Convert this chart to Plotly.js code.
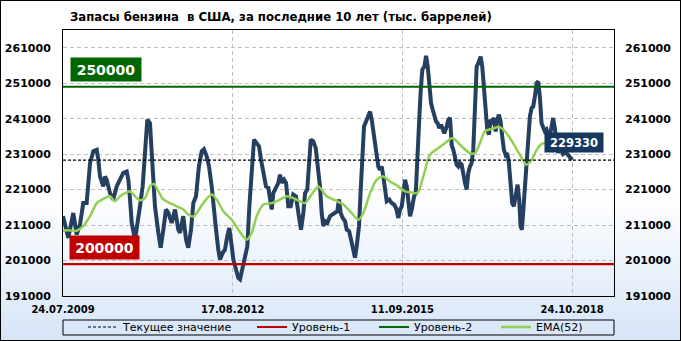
<!DOCTYPE html>
<html><head><meta charset="utf-8">
<script src="https://cdn.plot.ly/plotly-3.0.1.min.js"></script>
<style>
html,body{margin:0;padding:0;background:#fff;}
#wrap{position:relative;width:681px;height:341px;background:linear-gradient(to bottom,#ffffff 0%,#ffffff 57%,#d6e5f7 100%);}
#chart{position:absolute;left:0;top:0;width:681px;height:341px;}
#frame{position:absolute;left:0;top:0;width:681px;height:341px;box-sizing:border-box;border:1px solid #000;pointer-events:none;}
</style></head><body>
<div id="wrap"><div id="chart"></div><div id="frame"></div></div>
<script>
// x positions are week indices counted from 24.07.2009
const tickWeeks = [0, 160, 320, 480];
const tickLabels = ['24.07.2009', '17.08.2012', '11.09.2015', '24.10.2018'];
const yTicks = [191000, 201000, 211000, 221000, 231000, 241000, 251000, 261000];

const stockWeeks = [0,5,9.7,12.9,16,19.1,22.3,25.5,28.6,31.8,
33.3,34.9,38,39.6,41.2,44.3,47.4,50.6,53.7,56.9,
60.1,61.6,63.2,64.8,67.9,69.5,72.6,75.1,77.3,79.5,
82,83.6,85.1,86.7,89.9,92.1,94.6,97.1,99.3,102.5,
105.6,108.7,110.3,113.4,116,118.1,120.7,122.9,125.4,128.1,
130.8,132.9,135.5,137.7,140.2,141.7,144.3,146.4,148,150.6,
152.7,154.9,156.8,159.1,160.6,163.1,165.3,166.9,169.4,171.6,
173.8,175.7,177.9,180.1,182.6,184.8,186.7,188.9,191.4,193.6,
195.2,196.8,198.3,200.8,203,204.6,206.2,208.4,210.3,212.4,
214.7,217.1,219.7,221.9,224.4,226.6,228.2,230.3,231.9,233.6,
236,238.3,240.2,242.3,243.9,245.4,247,249.2,251.7,254.3,
256.5,258.6,260.2,261.8,263.7,265.9,267.5,269.7,271.6,273.7,
275.3,276.9,279.1,280.7,282.2,283.8,286.4,287.9,289.5,291.1,
292.6,294.2,295.8,297.3,298.9,300.5,302,303.6,305.2,307.6,
309.9,312.1,314,316.2,317.8,319.4,320.9,322.5,324.1,325.6,
327.2,328.8,331,332.6,334.1,335.7,337.3,338.8,340.7,342.3,
343.9,345.4,347,348.6,350.1,351.7,353.3,354.8,356.4,358,
359.5,361.8,363.3,364.9,366.5,368,369.6,371.2,372.7,374.3,
375.9,377.4,379,380.6,382.1,383.7,385.3,386.8,388.4,390,
391.5,393.8,395.3,396.9,398.5,400,401.6,403.2,404.7,406.3,
407.9,409.4,411,412.6,414.1,415.7,417.3,418.8,420.4,422,
423.5,425.1,426.7,428.6,430.1,431.4,432.7,433.9,435.5,437.1,
438.6,440.2,441.8,443.3,444.9,446.5,448,449.6,451.2,452.7,
454.3,455.9,457.4,459,460.6,462.1,463.7,465.5,466.8,468.6,
471.4,474.2,477,480];

const stockValues = [213500,207400,214400,208300,211100,217200,217200,228500,231800,232200,
229400,224700,221900,224700,223800,220000,218200,221900,223800,225700,
226100,223800,218200,211600,206900,209700,216300,221900,232200,240700,
239700,232200,221900,216300,208800,204600,209700,215400,214400,211600,
215400,209700,208800,213500,206900,204600,209700,217200,219100,227500,
231800,232400,230400,227500,221900,216300,209700,204100,201300,203200,
204100,207900,210200,205000,201300,198500,196100,195700,199400,201300,
205000,216300,226600,235100,234100,233200,229400,225700,221900,221500,
219100,215400,220000,221500,222900,225200,222900,223800,222900,216300,
216300,219600,219100,214400,209700,214400,220000,221000,228500,235100,
234600,232700,227500,221900,214400,210700,212100,211600,213500,214000,
214400,214900,218200,214400,213000,212100,209700,209300,206900,204100,
201800,205000,210700,221000,230400,238800,240700,241600,243000,240700,
237900,233200,230400,227500,226600,227500,224700,220000,217700,218200,
217200,216800,215800,213000,215400,216300,220000,223800,221900,217200,
213500,215400,219100,220000,227500,239700,249100,254800,255700,258700,
255700,250100,245400,243500,241600,240200,239700,238300,239300,237900,
236900,238800,240700,241200,233500,232200,230400,228000,227500,228500,
228000,224700,222900,221000,225700,227500,228500,232200,244400,255700,
256600,258500,255700,249100,242600,237900,236500,240700,240200,241200,
237400,240700,242100,240200,236000,232200,230800,231300,228500,221000,
217200,216300,220000,222400,218200,210700,209700,215400,222900,229400,
235100,241600,244000,244400,247200,251000,251500,247200,239700,238300,
237400,237900,236500,236000,239700,241200,238300,235100,231300,233200,
231000,231500,230500,229330];

const emaWeeks = [0,6.6,12.9,19.1,25.5,31.8,38,44.3,49,53.7,
60.1,63.2,67.9,72.6,77.3,82,85.8,89.9,94.6,100.9,
107.2,113.4,118.1,122.9,126.1,132.3,140.2,144.9,151.1,159.1,
165.3,173.2,177.9,182.6,188.9,196.8,204.6,210.9,217.1,221.9,
228.2,234.5,240.7,248.6,256.5,264.3,272.2,278.5,283.2,289.5,
295.8,302,308.3,316.2,322.5,328.8,334.1,339.7,346,353.9,
360.2,366.5,369.6,375.9,383.7,388.4,393.1,397.8,404.1,411.9,
418.2,424.3,430.9,437.1,441.9,446.6,451.3,453.5,466,480];

const emaValues = [209500,209500,209400,210700,213500,217200,218400,219100,217700,219100,
220200,220500,219100,218000,218600,221900,222600,220500,218200,217200,
216300,215400,214000,213400,214400,217200,219600,218200,214900,212500,
209700,206900,208800,213500,216800,217200,218200,219100,218600,217900,
217200,219600,221900,219100,218000,216800,214400,212500,214400,220000,
223800,224700,223300,221900,220500,220200,220000,224700,230800,232700,
234100,235500,235100,233200,231300,231300,234100,237400,238100,238600,
236900,234100,230800,228000,229400,232200,233900,234100,234000,233500];

const currentValue = 229330;
const level1 = 200000;
const level2 = 250000;
const xRange = [0, 519.5];

const legFont = {family: 'DejaVu Sans, Verdana, sans-serif', size: 11, color: '#000'};

const traces = [
  {x: stockWeeks, y: stockValues, type: 'scatter', mode: 'lines', showlegend: false,
   line: {color: '#243F60', width: 4}, hoverinfo: 'skip'},
  {x: emaWeeks, y: emaValues, type: 'scatter', mode: 'lines', name: 'EMA(52)', legend: 'legend4',
   line: {color: '#92D050', width: 2.5, shape: 'spline', smoothing: 0.8}, hoverinfo: 'skip'},
  {x: xRange, y: [currentValue, currentValue], type: 'scatter', mode: 'lines', name: 'Текущее значение', legend: 'legend',
   line: {color: '#000', width: 1.2, dash: '3px,2px'}, hoverinfo: 'skip'},
  {x: xRange, y: [level1, level1], type: 'scatter', mode: 'lines', name: 'Уровень-1', legend: 'legend2',
   line: {color: '#C00000', width: 2.2}, hoverinfo: 'skip'},
  {x: xRange, y: [level2, level2], type: 'scatter', mode: 'lines', name: 'Уровень-2', legend: 'legend3',
   line: {color: '#006600', width: 2.2}, hoverinfo: 'skip'},
  {x: [null], y: [null], yaxis: 'y2', showlegend: false, hoverinfo: 'skip', type: 'scatter', mode: 'lines'}
];

function leg(px) {
  return {x: (px - 63) / 551, y: (296 - 327) / 266, xanchor: 'left', yanchor: 'middle',
    orientation: 'h', bgcolor: 'rgba(0,0,0,0)', borderwidth: 0, font: legFont};
}

const tickFontY = {family: 'DejaVu Sans, Verdana, sans-serif', size: 11, color: '#000', weight: 'bold'};
const yCommon = {range: [191000, 266000], tickvals: yTicks, ticktext: yTicks.map(String), ticks: '',
  showgrid: false, zeroline: false, tickfont: tickFontY, fixedrange: true};

const layout = {
  width: 681, height: 341,
  margin: {l: 63, r: 67, t: 30, b: 45, pad: 0, autoexpand: false},
  paper_bgcolor: 'rgba(0,0,0,0)', plot_bgcolor: 'rgba(0,0,0,0)',
  title: {text: 'Запасы бензина  в США, за последние 10 лет (тыс. баррелей)',
    x: 70 / 681, xanchor: 'left', xref: 'container', y: 1 - 16 / 341, yanchor: 'middle', yref: 'container',
    font: {family: 'DejaVu Sans Condensed, DejaVu Sans, sans-serif', size: 13, color: '#000', weight: 'bold'}},
  xaxis: {range: xRange, tickvals: tickWeeks, ticktext: tickLabels, ticks: '', showgrid: true,
    gridcolor: '#BFBFBF', griddash: '4px,3px', gridwidth: 1, zeroline: false,
    showline: true, mirror: true, linecolor: '#000', linewidth: 1, ticklabelstandoff: 4,
    tickfont: {family: 'DejaVu Sans, Verdana, sans-serif', size: 10, color: '#000', weight: 'bold'}},
  yaxis: Object.assign({}, yCommon, {side: 'left', showgrid: true, gridcolor: '#BFBFBF', griddash: '4px,3px',
    showline: true, mirror: true, linecolor: '#000', linewidth: 1, ticklabelstandoff: 9}),
  yaxis2: Object.assign({}, yCommon, {side: 'right', overlaying: 'y', showline: false, ticklabelstandoff: 10}),
  showlegend: true,
  legend: leg(83), legend2: leg(252), legend3: leg(374), legend4: leg(496),
  shapes: [
    {type: 'rect', xref: 'paper', yref: 'paper', x0: 0, x1: 1, y0: (296 - 335) / 266, y1: (296 - 320) / 266,
     line: {color: '#000', width: 1}, fillcolor: 'rgba(0,0,0,0)'}
  ],
  annotations: [
    {x: 6.6, y: 254800, xref: 'x', yref: 'y', xanchor: 'left', yanchor: 'middle', text: '250000', showarrow: false,
     bgcolor: '#006600', borderpad: 3, width: 64, height: 17,
     font: {family: 'DejaVu Sans, Verdana, sans-serif', size: 14, color: '#fff', weight: 'bold'}},
    {x: 5.7, y: 204700, xref: 'x', yref: 'y', xanchor: 'left', yanchor: 'middle', text: '200000', showarrow: false,
     bgcolor: '#C00000', borderpad: 3, width: 63, height: 17,
     font: {family: 'DejaVu Sans, Verdana, sans-serif', size: 14, color: '#fff', weight: 'bold'}},
    {x: 453.8, y: 234300, xref: 'x', yref: 'y', xanchor: 'left', yanchor: 'middle', text: '229330', showarrow: false,
     bgcolor: '#17375E', borderpad: 3, width: 52, height: 13,
     font: {family: 'DejaVu Sans, Verdana, sans-serif', size: 11.5, color: '#fff', weight: 'bold'}}
  ]
};

Plotly.newPlot('chart', traces, layout, {displayModeBar: false, staticPlot: true});
</script>
</body></html>
